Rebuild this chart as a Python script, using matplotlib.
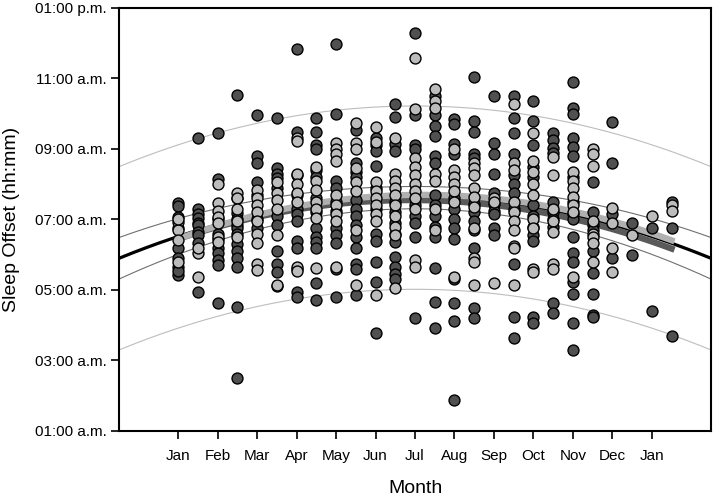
import matplotlib.pyplot as plt
import numpy as np

plt.rcParams['font.family'] = ['Liberation Sans', 'DejaVu Sans']

# x positions of the half-month columns (0 = Jan)
col_pos = [0.0, 0.5, 1.0, 1.5, 2.0, 2.5, 3.0, 3.5, 4.0, 4.5, 5.0, 5.5, 6.0,
           6.5, 7.0, 7.5, 8.0, 8.5, 9.0, 9.5, 10.0, 10.5, 11.0, 11.5, 12.0, 12.5]

# sleep offset in hours after midnight, one list per column
dark_group = [
    [7.48, 7.38, 7.06, 6.75, 6.2, 5.92, 5.64, 5.42, 5.55],
    [9.32, 7.31, 7.15, 7.03, 6.9, 6.83, 6.65, 6.55, 6.32, 4.93],
    [9.44, 8.16, 7.0, 6.6, 6.45, 6.2, 6.04, 5.84, 5.7, 4.62],
    [10.54, 7.6, 7.17, 7.0, 6.85, 6.75, 6.6, 6.3, 6.12, 5.9, 5.64, 4.51, 2.5],
    [9.97, 8.81, 8.59, 8.05, 7.7, 7.0, 6.75],
    [9.89, 8.47, 8.3, 8.19, 7.9, 7.1, 6.83, 6.12, 5.75, 5.5, 5.1],
    [11.84, 9.47, 8.25, 7.7, 7.3, 7.15, 6.97, 6.4, 6.18, 5.6, 4.95, 4.8],
    [9.89, 9.47, 9.1, 9.0, 8.4, 8.2, 7.6, 7.2, 6.75, 6.49, 6.35, 6.2, 5.19, 4.71],
    [11.98, 10.0, 8.1, 7.9, 7.5, 7.25, 6.77, 6.55, 6.32, 5.6, 4.79],
    [9.55, 8.6, 8.35, 8.2, 7.54, 7.3, 7.1, 6.85, 6.5, 6.2, 5.75, 5.6, 4.85],
    [9.3, 9.1, 8.95, 8.53, 7.9, 7.3, 6.6, 6.4, 5.78, 5.22, 3.77],
    [10.28, 9.9, 9.15, 8.95, 7.5, 7.2, 6.9, 6.6, 6.35, 5.93, 5.64, 5.45, 5.3],
    [12.3, 9.95, 9.1, 9.0, 7.4, 7.1, 6.9, 6.49, 4.2],
    [10.5, 9.95, 9.65, 9.38, 8.81, 8.6, 7.7, 7.4, 7.1, 6.8, 6.49, 5.61, 4.65, 3.91],
    [9.86, 9.7, 9.15, 8.85, 7.6, 7.3, 7.0, 6.75, 6.46, 5.3, 4.62, 4.11, 1.88],
    [11.03, 9.8, 9.47, 8.85, 8.75, 7.45, 7.2, 6.95, 6.7, 6.2, 4.48, 4.2],
    [10.51, 9.18, 8.87, 8.3, 7.75, 7.45, 7.25, 7.15, 6.75, 6.55],
    [10.51, 9.89, 9.44, 8.87, 8.25, 8.0, 7.75, 7.3, 5.75, 4.23, 3.63],
    [10.37, 9.8, 9.1, 8.5, 8.2, 7.4, 7.1, 6.8, 6.55, 6.4, 4.23, 4.06],
    [9.44, 9.25, 9.04, 8.9, 7.5, 7.2, 7.0, 6.8, 4.62, 4.34],
    [10.9, 10.17, 10.0, 9.32, 9.05, 8.81, 8.2, 7.5, 7.15, 7.0, 6.49, 6.04,
     5.78, 5.22, 4.9, 4.06, 3.29],
    [8.05, 7.2, 6.85, 6.7, 6.1, 5.47, 4.9, 4.28, 4.23],
    [9.77, 8.59, 7.15, 5.92],
    [6.89, 5.98],
    [6.77, 4.4],
    [7.5, 6.75, 3.69],
]
light_group = [
    [6.92, 6.69, 6.43, 5.78, 7.0],
    [6.04, 6.2, 5.36],
    [8.02, 7.48, 7.25, 7.06, 6.89, 6.5, 6.35],
    [7.74, 7.6, 7.31, 6.95, 6.49],
    [7.85, 7.6, 7.4, 7.2, 6.97, 6.6, 6.32, 5.75, 5.56],
    [8.05, 7.75, 7.54, 7.31, 6.55, 5.13],
    [9.32, 9.24, 8.3, 8.0, 7.75, 7.5, 5.64, 5.55],
    [8.5, 8.1, 7.85, 7.5, 7.3, 7.05, 5.61],
    [9.18, 9.0, 8.85, 8.65, 7.7, 7.4, 7.15, 6.97, 5.64],
    [9.75, 9.18, 9.0, 8.47, 8.05, 7.8, 6.69, 5.13],
    [9.63, 9.2, 8.05, 7.8, 7.6, 7.4, 7.15, 6.97, 4.85],
    [9.32, 8.3, 8.1, 7.9, 7.7, 7.4, 7.1, 6.8, 6.55, 5.05],
    [11.58, 10.14, 8.75, 8.5, 8.25, 8.0, 7.8, 7.6, 7.3, 5.85, 5.64],
    [10.7, 10.35, 10.15, 8.3, 8.1, 7.3, 6.7],
    [9.0, 8.4, 8.2, 8.0, 7.8, 7.5, 5.36],
    [8.6, 8.45, 8.25, 7.9, 7.65, 7.35, 6.75, 5.9, 5.78, 5.13],
    [7.6, 7.5, 5.2],
    [10.28, 8.6, 8.4, 7.5, 7.2, 6.95, 6.7, 6.26, 6.18, 5.13],
    [9.45, 8.65, 8.35, 8.0, 7.7, 7.0, 6.75, 5.6, 5.5],
    [8.76, 8.25, 7.3, 6.95, 6.65, 5.75, 5.6],
    [8.35, 8.1, 7.9, 7.65, 7.4, 7.2, 5.36],
    [9.0, 8.87, 8.53, 6.95, 6.6, 6.49, 6.32, 5.78],
    [7.34, 6.89, 6.2, 5.5],
    [6.55],
    [7.09],
    [7.4, 7.25],
]

month_ticks = [0, 1, 2, 3, 4, 5, 6, 7, 8, 9, 10, 11, 12]
month_labels = ['Jan', 'Feb', 'Mar', 'Apr', 'May', 'Jun', 'Jul', 'Aug',
                'Sep', 'Oct', 'Nov', 'Dec', 'Jan']
hour_ticks = [1, 3, 5, 7, 9, 11, 13]
hour_labels = ['01:00 a.m.', '03:00 a.m.', '05:00 a.m.', '07:00 a.m.',
               '09:00 a.m.', '11:00 a.m.', '01:00 p.m.']

# quadratic fits: (peak hour, peak month, curvature)
fit_all = (7.62, 6.0, 0.0306)
fit_light = (7.70, 6.2, 0.0325)
fit_dark = (7.55, 5.9, 0.0316)
conf_band = (0.10, 0.0044)   # half width = sqrt(a + b*(x - peak)^2)
pred_band = 2.6


def quad(fit, x):
    return fit[0] - fit[2] * (x - fit[1]) ** 2


fig = plt.figure(figsize=[7.14, 4.99], dpi=100)
ax = fig.add_axes([0.1667, 0.1363, 0.8291, 0.8477])

xx = np.linspace(-1.5, 13.5, 300)
mid = quad(fit_all, xx)
half = np.sqrt(conf_band[0] + conf_band[1] * (xx - fit_all[1]) ** 2)
ax.plot(xx, mid + pred_band, color='#bdbdbd', lw=0.8, zorder=1)
ax.plot(xx, mid - pred_band, color='#bdbdbd', lw=0.8, zorder=1)
ax.plot(xx, mid + half, color='#707070', lw=0.8, zorder=1)
ax.plot(xx, mid - half, color='#707070', lw=0.8, zorder=1)
ax.plot(xx, mid, color='black', lw=2.3, zorder=2)

xs = np.linspace(col_pos[0], col_pos[-1], 200)
ax.plot(xs, quad(fit_dark, xs), color='#5a5a5a', lw=4.5, zorder=3)
ax.plot(xs, quad(fit_light, xs), color='#b0b0b0', lw=4.5, zorder=3)

for x, vals in zip(col_pos, dark_group):
    ax.scatter([x] * len(vals), vals, s=62, c='#505050',
               edgecolors='black', linewidths=1.0, zorder=4)
for x, vals in zip(col_pos, light_group):
    ax.scatter([x] * len(vals), vals, s=62, c='#bcbcbc',
               edgecolors='black', linewidths=1.0, zorder=5)

ax.set_xlim(-1.5, 13.5)
ax.set_ylim(1, 13)
ax.set_xticks(month_ticks)
ax.set_xticklabels(month_labels)
ax.set_yticks(hour_ticks)
ax.set_yticklabels(hour_labels)
ax.tick_params(direction='out', length=6, width=1.2, labelsize=11,
               top=False, right=False)
ax.tick_params(axis='x', pad=7)
ax.tick_params(axis='y', pad=3)
for sp in ax.spines.values():
    sp.set_linewidth(1.5)

ax.set_xlabel('Month', fontsize=14, va='center')
ax.xaxis.set_label_coords(0.5, -0.135)
ax.set_ylabel('Sleep Offset (hh:mm)', fontsize=14, va='center')
ax.yaxis.set_label_coords(-0.181, 0.5)

plt.savefig('out.png', dpi=100)
